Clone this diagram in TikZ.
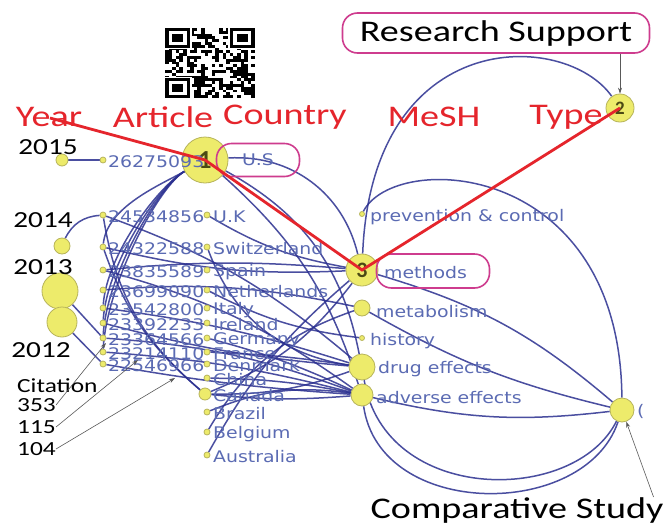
\documentclass[tikz,border=0pt]{standalone}
\usepackage{fontspec}
\setmainfont{Carlito}
\newfontfamily\netfont{DejaVu Sans}
\usetikzlibrary{arrows.meta,backgrounds}

\definecolor{dotfill}{HTML}{EDEB6B}
\definecolor{dotline}{HTML}{B7B45A}
\definecolor{netblue}{HTML}{2B3090}
\definecolor{lablue}{HTML}{5B6BB3}
\definecolor{hdred}{HTML}{E5252C}
\definecolor{boxpink}{HTML}{CE3C8E}
\definecolor{numdark}{HTML}{4B4A14}

\newcommand{\wide}[1]{\scalebox{1.27}[1]{#1}}
\newcommand{\netw}[1]{\scalebox{1.18}[1]{#1}}

\tikzset{
  ndot/.style={circle, fill=dotfill, draw=dotline, line width=0.8pt, inner sep=0pt, minimum size=#1},
  ndot/.default=6pt,
  num/.style={text=numdark, font=\bfseries\fontsize{#1}{#1}\selectfont},
  link/.style={draw=netblue, line width=1.5pt, opacity=0.85},
  hd/.style={text=hdred, font=\fontsize{30}{30}\selectfont, inner sep=0pt},
  bk/.style={text=black, font=\fontsize{23}{23}\selectfont, inner sep=0pt},
  nlab/.style={text=lablue, font=\netfont\fontsize{16}{16}\selectfont, anchor=west, inner sep=0pt},
  pinkbox/.style={draw=boxpink, line width=1.6pt, rounded corners=15pt},
  redline/.style={draw=hdred, line width=2.8pt},
  ptr/.style={draw=black!65, line width=0.6pt, -{Stealth[length=6pt,width=4pt]}},
}

\begin{document}
\begin{tikzpicture}[x=1pt,y=-1pt]
\useasboundingbox (0,0) rectangle (665,528);

% qr code
\begin{scope}[shift={(165,28)}, x=3.6pt, y=-2.8pt]
  \pgfmathsetseed{27}
  \foreach \i in {0,...,24}{
    \foreach \j in {0,...,24}{
      \pgfmathrandominteger{\bit}{0}{1}
      \ifnum\bit=1 \fill (\i,\j) rectangle ++(1,1); \fi
    }
  }
  \foreach \fx/\fy in {0/0,18/0,0/18}{
    \fill[white] (\fx-0.5,\fy-0.5) rectangle ++(8,8);
    \fill (\fx,\fy) rectangle ++(7,7);
    \fill[white] (\fx+1,\fy+1) rectangle ++(5,5);
    \fill (\fx+2,\fy+2) rectangle ++(3,3);
  }
\end{scope}

% year markers
\node[ndot=12pt] (y15) at (62,160) {};
\node[ndot=16pt] (y14) at (62,246) {};
\node[ndot=36pt] (y13) at (60,291) {};
\node[ndot=30pt] (y12) at (62,322) {};

% articles and countries
\node[ndot] (a0) at (103,160) {};
\node[ndot=46pt, num=26] (n1) at (205,160) {1};
\node[nlab] (art0) at (108,162) {\netw{26275093}};
\foreach \i/\yy/\art/\ctry in {1/215/24534856/U.K, 2/247/24322588/Switzerland,
    3/270/23835589/Spain, 4/290/23699090/Netherlands, 5/308/23542800/Italy,
    6/323/23392233/Ireland, 7/338/23364566/Germany, 8/352/23214110/France,
    9/364/22546966/Denmark}{
  \node[ndot] (a\i) at (103,\yy) {};
  \node[ndot] (k\i) at (207,\yy) {};
  \node[nlab] (art\i) at (108,\yy+2) {\netw{\art}};
  \node[nlab] (cty\i) at (213,\yy+2) {\netw{\ctry}};
}
\foreach \i/\yy/\ctry in {10/378/China, 12/412/Brazil, 13/432/Belgium, 14/455/Australia}{
  \node[ndot] (k\i) at (207,\yy) {};
  \node[nlab] (cty\i) at (213,\yy+2) {\netw{\ctry}};
}
\node[ndot=12pt] (k11) at (205,394) {};
\node[nlab] (cty11) at (213,396) {\netw{Canada}};

% mesh terms
\node[ndot=5pt] (m1) at (362,214) {};
\node[ndot=32pt, num=22] (n3) at (362,270) {3};
\node[ndot=16pt] (m3) at (362,308) {};
\node[ndot=5pt] (m4) at (362,338) {};
\node[ndot=26pt] (m5) at (362,367) {};
\node[ndot=22pt] (m6) at (362,395) {};
\node[nlab] (mt1) at (370,217) {\netw{prevention \& control}};
\node[nlab] (mt2) at (384,273) {\netw{methods}};
\node[nlab] (mt3) at (376,312) {\netw{metabolism}};
\node[nlab] (mt4) at (370,341) {\netw{history}};
\node[nlab] (mt5) at (378,369) {\netw{drug effects}};
\node[nlab] (mt6) at (376,398) {\netw{adverse effects}};

% types
\node[ndot=28pt, num=19] (n2) at (620,108) {2};
\node[ndot=24pt] (ct) at (622,410) {};
\node[nlab] (ctt) at (637,411) {\netw{(}};

% headings
\node[hd] (hyear) at (49,117) {\wide{Year}};
\node[hd] (hart) at (163,117) {\wide{Article}};
\node[hd] (hcty) at (285,117) {\wide{Country}};
\node[hd] (hmesh) at (434,117) {\wide{MeSH}};
\node[hd] (htype) at (566,117) {\wide{Type}};

\node[bk] (t15) at (48,147) {\wide{2015}};
\node[bk] (t14) at (43,220) {\wide{2014}};
\node[bk] (t13) at (43,267) {\wide{2013}};
\node[bk] (t12) at (41,350) {\wide{2012}};
\node[bk, font=\fontsize{20}{20}\selectfont, anchor=west] (cit) at (17,386) {\wide{Citation}};
\node[bk, font=\fontsize{20}{20}\selectfont, anchor=west] (c353) at (17,405) {\wide{353}};
\node[bk, font=\fontsize{20}{20}\selectfont, anchor=west] (c115) at (17,427) {\wide{115}};
\node[bk, font=\fontsize{20}{20}\selectfont, anchor=west] (c104) at (17,449) {\wide{104}};

% highlighted labels
\node[pinkbox, text=lablue, font=\netfont\fontsize{16}{16}\selectfont,
  minimum width=83pt, minimum height=33pt] (us) at (258,160) {\netw{U.S}};
\node[pinkbox, minimum width=113pt, minimum height=34pt] (methbox) at (433,271) {};
\node[pinkbox, bk, font=\fontsize{30}{30}\selectfont, minimum width=307pt,
  minimum height=40pt] (rs) at (496,33) {\wide{Research Support}};
\node[bk, font=\fontsize{30}{30}\selectfont] (cs) at (517,510) {\wide{Comparative Study}};

% red path
\coordinate (yr) at (50,118);
\draw[redline] (yr) -- (n1.center) -- (n3.center) -- (n2.center);

% pointers
\coordinate (p353) at (106,343);
\coordinate (p115) at (138,360);
\coordinate (p104) at (175,378);
\draw[ptr] (c353.east) -- (p353);
\draw[ptr] (c115.east) -- (p115);
\draw[ptr] (c104.east) -- (p104);
\draw[ptr] (rs.south -| n2) -- (n2);
\draw[ptr] ([xshift=-10pt]cs.north east) -- (ct);

% links
\begin{scope}[on background layer]
\fill[white] (0,0) rectangle (665,528);
\draw[link] (y15) -- (a0);
\draw[link] (y14) to[bend left=30] (a1);
\draw[link] (y13) -- (a7);
\draw[link] (y12) -- (a9);
\foreach \t/\d in {a2/40, a5/55, a6/60, a7/65, a8/70}{
  \draw[link] (n1) .. controls +(-45,25) and +(4,-\d) .. (\t);
}
\draw[link] (n1) to[bend left=40] (n3);
\draw[link] (n1) to[bend left=25] (m5);
\draw[link] (n1) to[bend left=15] (m6);
\foreach \s/\t/\b in {a1/m5/10, a2/n3/-8, a3/n3/5, a4/m3/8, a5/m5/5, a6/m5/-5,
    a7/m6/8, a8/m6/5, a9/m6/-3, a1/k11/-20, a2/k11/-15, a3/m6/10}{
  \draw[link] (\s) to[bend left=\b] (\t);
}
\foreach \s/\t/\b in {k1/n3/-10, k2/m5/-30, k7/m6/5, k8/m5/3, k10/m6/5, k11/m5/-10,
    k11/m6/-5, k12/m6/15, k13/m3/20, k14/n3/10, k11/n3/-15, k4/m4/-10}{
  \draw[link] (\s) to[bend left=\b] (\t);
}
\draw[link] (n3) .. controls (372,25) and (565,30) .. (n2);
\draw[link] (m1) .. controls (395,150) and (620,160) .. (ct);
\draw[link] (n3) to[bend left=12] (ct);
\draw[link] (m3) to[bend right=8] (ct);
\draw[link] (m6) to[bend right=10] (ct);
\draw[link] (m5) .. controls (385,505) and (575,505) .. (ct);
\draw[link] (m6) .. controls (380,520) and (585,520) .. (ct);
\end{scope}
\end{tikzpicture}
\end{document}
